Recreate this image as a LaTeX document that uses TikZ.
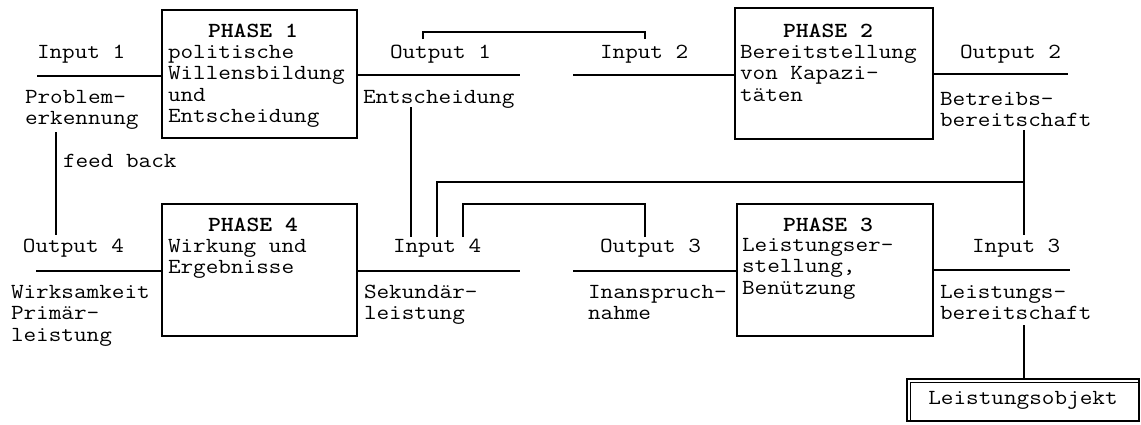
\documentclass[tikz,border=0pt]{standalone}
\usepackage{graphicx}
% typewriter text, widened to the proportions of a classic office typewriter face
\newcommand{\tw}{\fontsize{21.5}{21.5}\selectfont\ttfamily}
\newcommand{\wide}[1]{\scalebox{1.14}[1]{#1}}
\newcommand{\ml}[1]{\wide{\begin{tabular}[t]{@{}l@{}}#1\end{tabular}}}
\tikzset{
  phasebox/.style={draw, rectangle, inner sep=0pt, line width=1.1pt},
  txt/.style={anchor=base west, inner sep=0pt, outer sep=0pt, font=\tw},
  head/.style={txt, font=\tw\bfseries},
  wire/.style={line width=1.1pt},
}
\begin{document}
\begin{tikzpicture}[x=1pt, y=-1pt]
\useasboundingbox (0,0) rectangle (1141,424);

% phase boxes
\node[phasebox, minimum width=195pt, minimum height=128pt] (p1) at (259.5,74) {};
\node[phasebox, minimum width=198pt, minimum height=131pt] (p2) at (834,73.5) {};
\node[phasebox, minimum width=195pt, minimum height=132pt] (p4) at (259.5,270) {};
\node[phasebox, minimum width=196pt, minimum height=132pt] (p3) at (835,270) {};

% box texts
\node[head] (h1) at (208,37) {\wide{PHASE 1}};
\node[txt]  (t1) at (168,58) {\ml{politische\\Willensbildung\\und\\Entscheidung}};
\node[head] (h2) at (783,37) {\wide{PHASE 2}};
\node[txt]  (t2) at (740,58) {\ml{Bereitstellung\\von Kapazi-\\täten}};
\node[head] (h4) at (208,231) {\wide{PHASE 4}};
\node[txt]  (t4) at (168,252) {\ml{Wirkung und\\Ergebnisse}};
\node[head] (h3) at (783,231) {\wide{PHASE 3}};
\node[txt]  (t3) at (742,251) {\ml{Leistungser-\\stellung,\\Benützung}};

% input / output labels
\node[txt] (in1) at (37,58) {\wide{Input 1}};
\node[txt] (in1b) at (25,103) {\ml{Problem-\\erkennung}};
\node[txt] (fb) at (63,167) {\wide{feed back}};
\node[txt] (out1) at (390,58) {\wide{Output 1}};
\node[txt] (out1b) at (363,103) {\wide{Entscheidung}};
\node[txt] (in2) at (600,58) {\wide{Input 2}};
\node[txt] (out2) at (960,58) {\wide{Output 2}};
\node[txt] (out2b) at (940,105) {\ml{Betreibs-\\bereitschaft}};

\node[txt] (out4) at (23,252) {\wide{Output 4}};
\node[txt] (out4b) at (11,298) {\ml{Wirksamkeit\\Primär-\\leistung}};
\node[txt] (in4) at (393,252) {\wide{Input 4}};
\node[txt] (in4b) at (364,298) {\ml{Sekundär-\\leistung}};
\node[txt] (out3) at (600,252) {\wide{Output 3}};
\node[txt] (out3b) at (588,298) {\ml{Inanspruch-\\nahme}};
\node[txt] (in3) at (972,252) {\wide{Input 3}};
\node[txt] (in3b) at (940,298) {\ml{Leistungs-\\bereitschaft}};

% result object with a doubled top and left edge
\node[phasebox, minimum width=232pt, minimum height=42pt, font=\tw] (obj) at (1023,400) {\wide{Leistungsobjekt}};
\draw[line width=0.8pt] ([xshift=4pt,yshift=1pt]obj.south west) |- ([yshift=-4pt]obj.north east);

% horizontal input / output lines
\coordinate (a1) at (37,76);
\coordinate (b1) at (520,75);
\coordinate (c1) at (573,75);
\coordinate (d1) at (1068,74);
\coordinate (a2) at (36,271);
\coordinate (b2) at (520,271);
\coordinate (c2) at (573,271);
\coordinate (d2) at (1070,270);
\draw[wire] (a1) -- (a1 -| p1.west);
\draw[wire] (p1.east |- b1) -- (b1);
\draw[wire] (c1) -- (c1 -| p2.west);
\draw[wire] (p2.east |- d1) -- (d1);
\draw[wire] (a2) -- (a2 -| p4.west);
\draw[wire] (p4.east |- b2) -- (b2);
\draw[wire] (c2) -- (c2 -| p3.west);
\draw[wire] (p3.east |- d2) -- (d2);

% Output 1 -> Input 2
\coordinate (o1top) at (423,39);
\coordinate (i2top) at (645,39);
\draw[wire] (o1top) -- ++(0,-7) -| (i2top);

% feed back: Output 4 -> Input 1
\coordinate (fbtop) at (56,132);
\coordinate (fbbot) at (56,235);
\draw[wire] (fbtop) -- (fbbot);

% Entscheidung -> Input 4
\coordinate (ent) at (411,107);
\coordinate (i4a) at (411,237);
\draw[wire] (ent) -- (i4a);

% Betriebsbereitschaft -> Input 3 and Input 4
\coordinate (bb) at (1024,130);
\coordinate (i3top) at (1024,235);
\coordinate (split) at (1024,182);
\coordinate (i4b) at (437,237);
\draw[wire] (bb) -- (i3top);
\draw[wire] (split) -| (i4b);

% Output 3 -> Input 4
\coordinate (o3top) at (645,237);
\coordinate (i4c) at (463,237);
\draw[wire] (o3top) -- ++(0,-33) -| (i4c);

% Leistungsbereitschaft -> Leistungsobjekt
\coordinate (lb) at (1024,325);
\draw[wire] (lb) -- (lb |- obj.north);
\end{tikzpicture}
\end{document}
